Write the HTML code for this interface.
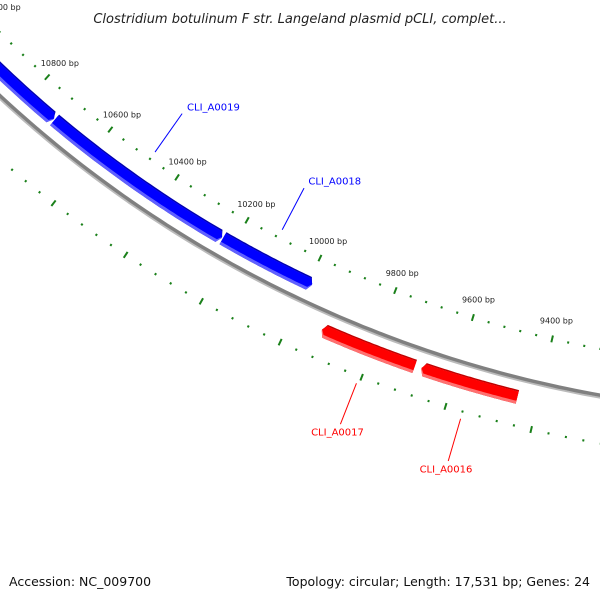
<!DOCTYPE html>
<html><head><meta charset="utf-8"><style>
body{margin:0;background:#fff}
svg{display:block;font-family:"DejaVu Sans","Liberation Sans",sans-serif}
</style></head><body>
<svg id="map" width="600" height="600" viewBox="0 0 600 600" xmlns="http://www.w3.org/2000/svg">
<text x="300" y="23" text-anchor="middle" font-size="13" font-style="italic" fill="#222">Clostridium botulinum F str. Langeland plasmid pCLI, complet...</text>
<g id="rings"></g>
<g id="backbone"></g>
<g id="genes"></g>
<text x="9" y="586" font-size="12.5" fill="#111">Accession: NC_009700</text>
<text x="590" y="586" text-anchor="end" font-size="12.5" fill="#111">Topology: circular; Length: 17,531 bp; Genes: 24</text>
</svg>
<script>
const seqLength = 17531;
const majorTicks = [9000,9200,9400,9600,9800,10000,10200,10400,10600,10800,11000,11200];
const tickLabels = ["9000 bp","9200 bp","9400 bp","9600 bp","9800 bp","10000 bp","10200 bp","10400 bp","10600 bp","10800 bp","11000 bp","11200 bp"];
const geneNames = ["CLI_A0016","CLI_A0017","CLI_A0018","CLI_A0019","CLI_A0020"];
const geneStarts = [9448,9695,9998,10240,10730];
const geneEnds = [9671,9917,10229,10719,11500];
const geneStrand = [-1,-1,1,1,1];
const labelled = [true,true,true,true,false];

const CX=810.4, CY=-777.1;
const R_INNER_TICK=1145.5, R_OUTER_TICK=1238.5, R_LABEL=1126.5, R_BB=1191;
const NS="http://www.w3.org/2000/svg";
function ang(bp){return bp/seqLength*2*Math.PI;}
function pt(bp,r){const a=ang(bp);return [CX+r*Math.sin(a),CY-r*Math.cos(a)];}
function mk(tag,attrs,parent){const e=document.createElementNS(NS,tag);for(const k in attrs)e.setAttribute(k,attrs[k]);parent.appendChild(e);return e;}
const rings=document.getElementById('rings');
const minorStep=40;
for(let bp=majorTicks[0];bp<=majorTicks[majorTicks.length-1];bp+=minorStep){
  const isMajor=(bp-majorTicks[0])%200===0;
  [R_INNER_TICK,R_OUTER_TICK].forEach(r=>{
    const h=isMajor?3.5:1.1;
    const a=pt(bp,r-h),b=pt(bp,r+h);
    const l=mk('line',{x1:a[0],y1:a[1],x2:b[0],y2:b[1],stroke:'#1a801a','stroke-width':2},rings);
    
    
  });
}
majorTicks.forEach((bp,i)=>{
  const p=pt(bp,R_LABEL);
  const t=mk('text',{x:p[0],y:p[1]+3,'text-anchor':'middle','font-size':8,fill:'#222'},rings);
  t.textContent=tickLabels[i];
  
  
});
const bb=document.getElementById('backbone');
function arcPath(b0,b1,r){let d='';for(let bp=b0;bp<=b1;bp+=20){const p=pt(bp,r);d+=(d?'L':'M')+p[0].toFixed(1)+' '+p[1].toFixed(1);}return d;}
const s1=mk('path',{d:arcPath(8000,12000,R_BB+2.5),fill:'none',stroke:'#bbb','stroke-width':2},bb);


const s2=mk('path',{d:arcPath(8000,12000,R_BB),fill:'none',stroke:'#808080','stroke-width':3.5},bb);


const gg=document.getElementById('genes');
function band(s,e,r0,r1,strand,tip){
  const pts=[],N=40;
  for(let i=0;i<=N;i++){const bp=s+(e-s)*i/N;pts.push(pt(bp,r0));}
  const back=[];
  for(let i=0;i<=N;i++){const bp=s+(e-s)*i/N;back.push(pt(bp,r1));}
  let poly;
  const rm=(r0+r1)/2;
  if(strand===1){poly=[pt(s-tip,rm),...pts,...back.reverse()];}
  else{poly=[...pts,pt(e+tip,rm),...back.reverse()];}
  return poly.map(p=>p[0].toFixed(1)+','+p[1].toFixed(1)).join(' ');
}
geneNames.forEach((nm,i)=>{
  const s=geneStarts[i],e=geneEnds[i],st=geneStrand[i];
  const g=mk('g',{},gg);
  
  
  const r0=st===1?R_BB-25:R_BB+12, r1=st===1?R_BB-11:R_BB+26;
  const main=st===1?'#0000ff':'#ff0000', dark=st===1?'#0000b0':'#c00000', light=st===1?'#6060ff':'#ff7070';
  const tip=8;
  mk('polygon',{points:band(s,e,r0,r1,st,tip),fill:dark},g);
  mk('polygon',{points:band(s,e,r0+1.5,r1,st,tip),fill:light},g);
  mk('polygon',{points:band(s,e,r0+1.5,r1-3,st,tip),fill:main},g);
  if(labelled[i]){
    const mid=(s+e)/2;
    let a,b,tp;
    if(st===1){a=pt(mid,1137);b=pt(mid,1090);tp=pt(mid,1085);}
    else{a=pt(mid,1246);b=pt(mid,1290);tp=pt(mid,1298);}
    const ln=mk('line',{x1:a[0],y1:a[1],x2:b[0],y2:b[1],stroke:main,'stroke-width':1},g);
    
    
    const t=mk('text',{x:tp[0]+(st===1?2:0),y:tp[1]+(st===1?1:4),'text-anchor':st===1?'start':'middle','font-size':10,fill:main},g);
    t.textContent=nm;
    
    
  }
});
</script>
</body></html>
